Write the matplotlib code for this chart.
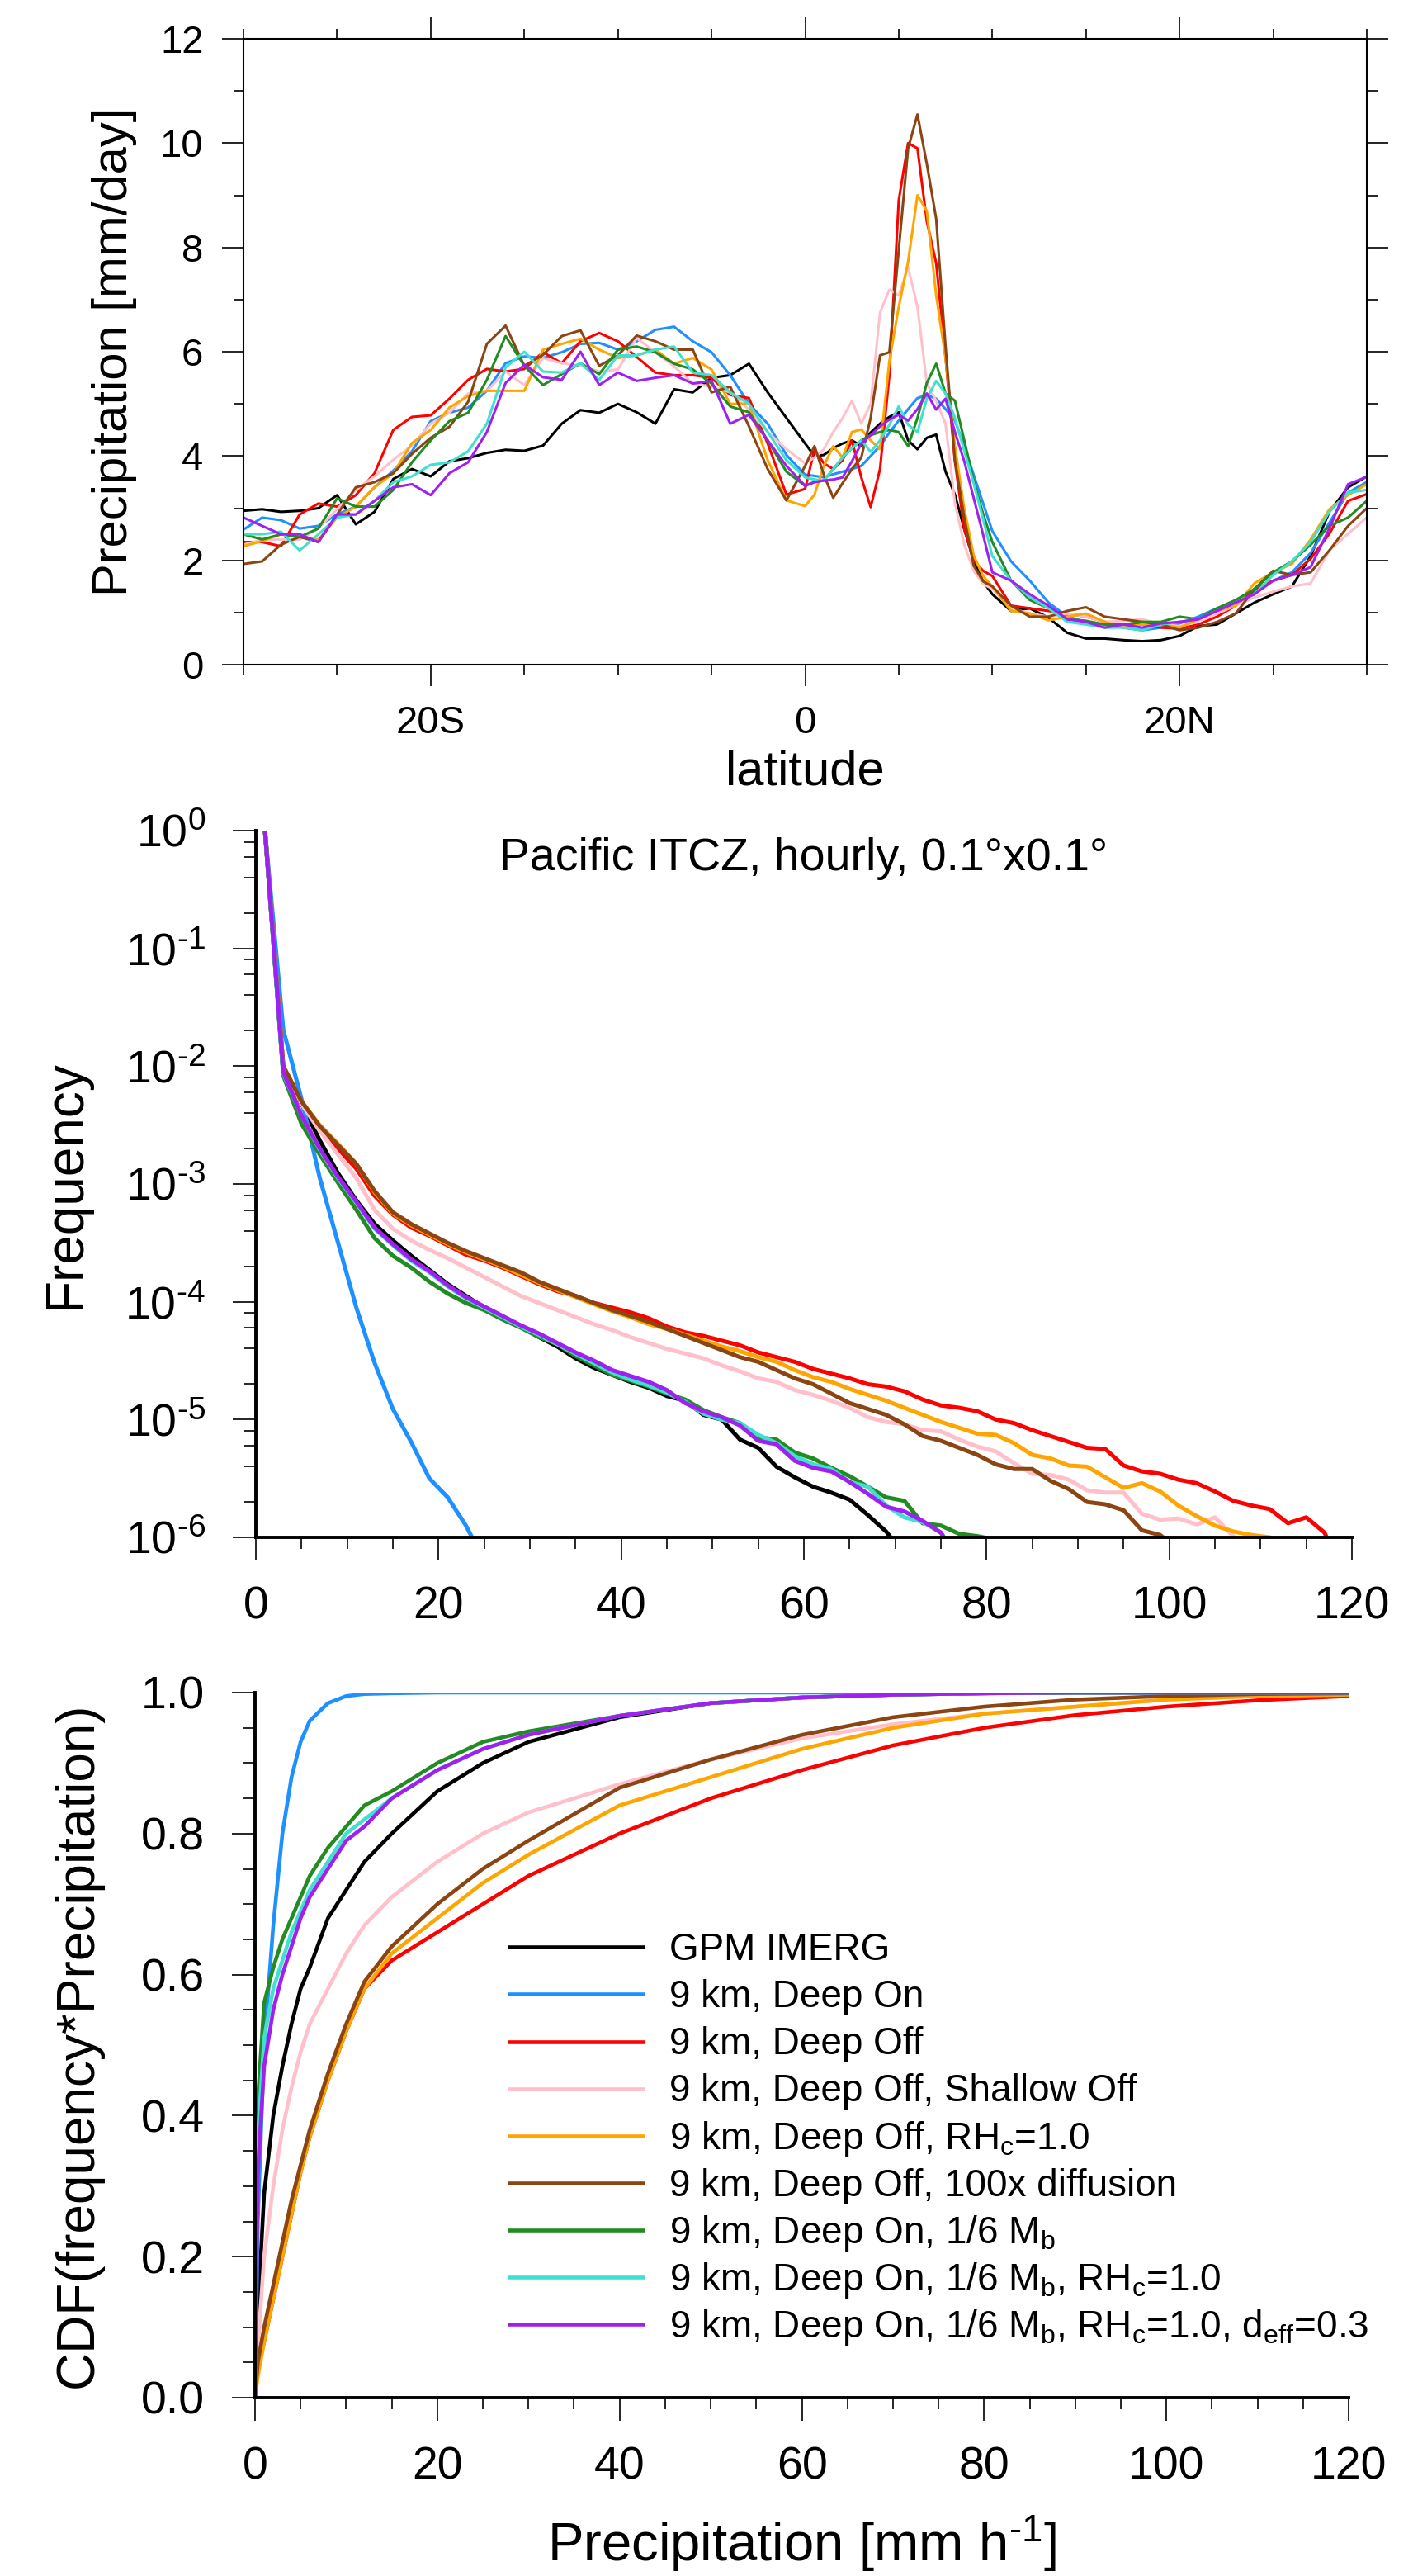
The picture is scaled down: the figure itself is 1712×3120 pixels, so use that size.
import matplotlib
matplotlib.use("Agg")
import matplotlib.pyplot as plt
import numpy as np
from matplotlib.ticker import (MultipleLocator, LogLocator, NullFormatter,
                               FormatStrFormatter, FuncFormatter)

plt.rcParams["font.family"] = ["Liberation Sans", "DejaVu Sans"]
plt.rcParams["mathtext.fontset"] = "custom"
plt.rcParams["mathtext.rm"] = "Liberation Sans"
plt.rcParams["mathtext.it"] = "Liberation Sans:italic"
plt.rcParams["mathtext.default"] = "regular"

# ---------------- data ----------------
run_labels = [
    "GPM IMERG",
    "9 km, Deep On",
    "9 km, Deep Off",
    "9 km, Deep Off, Shallow Off",
    "9 km, Deep Off, RH$_c$=1.0",
    "9 km, Deep Off, 100x diffusion",
    "9 km, Deep On, 1/6 M$_b$",
    "9 km, Deep On, 1/6 M$_b$, RH$_c$=1.0",
    "9 km, Deep On, 1/6 M$_b$, RH$_c$=1.0, d$_{eff}$=0.3",
]
run_colors = ["#000000", "#1E90FF", "#FF0000", "#FFC0CB", "#FFA500",
              "#8B4513", "#228B22", "#40E0D0", "#A020F0"]

# (a) zonal-mean precipitation [mm/day] vs latitude
lat = ([-30, -29, -28, -27, -26, -25, -24, -23, -22, -21, -20, -19, -18, -17, -16,
        -15, -14, -13, -12, -11, -10, -9, -8, -7, -6, -5, -4, -3, -2, -1]
       + [0, 0.5, 1, 1.5, 2, 2.5, 3, 3.5, 4, 4.5, 5, 5.5, 6, 6.5, 7, 7.5, 8, 8.5, 9, 9.5, 10]
       + [11, 12, 13, 14, 15, 16, 17, 18, 19, 20, 21, 22, 23, 24, 25, 26, 27, 28, 29, 30])

pr_imerg = [2.95, 2.98, 2.93, 2.95, 3.0, 3.25, 2.69, 2.93, 3.56, 3.75, 3.61, 3.9, 3.96, 4.06, 4.12,
            4.1, 4.2, 4.62, 4.88, 4.83, 5.0, 4.84, 4.62, 5.28, 5.22, 5.5, 5.55, 5.77, 5.22, 4.73,
            4.24, 4.0, 4.02, 4.15, 4.24, 4.3, 4.19, 4.45, 4.62, 4.75, 4.84, 4.3, 4.13, 4.35, 4.41,
            3.7, 3.26, 2.6, 2.0, 1.6, 1.35,
            1.03, 1.08, 0.9, 0.61, 0.5, 0.5, 0.47, 0.45, 0.47, 0.55, 0.74, 0.77, 0.98, 1.19, 1.35,
            1.5, 2.08, 2.93, 3.4, 3.61]
pr_deep_on = [2.59, 2.82, 2.77, 2.61, 2.66, 2.88, 3.03, 3.4, 3.72, 4.09, 4.67, 4.83, 4.93, 5.25, 5.78,
              5.91, 5.88, 5.99, 6.15, 6.17, 6.04, 6.2, 6.42, 6.48, 6.2, 5.99, 5.55, 5.0, 4.62, 4.02,
              3.64, 3.62, 3.59, 3.65, 3.7, 3.75, 3.81, 4.0, 4.19, 4.45, 4.68, 4.9, 5.11, 5.17, 5.1,
              4.9, 4.68, 4.2, 3.64, 3.1, 2.56,
              1.98, 1.61, 1.19, 0.92, 0.82, 0.77, 0.71, 0.66, 0.71, 0.79, 0.92, 1.08, 1.19, 1.4, 1.61,
              1.77, 2.14, 2.72, 3.3, 3.5]
pr_deep_off = [2.35, 2.35, 2.27, 2.88, 3.09, 3.03, 3.25, 3.67, 4.5, 4.75, 4.78, 5.1, 5.46, 5.67, 5.62,
               5.67, 5.99, 5.78, 6.2, 6.36, 6.2, 5.9, 5.6, 5.55, 5.55, 5.5, 5.17, 5.11, 4.24, 3.26,
               3.37, 4.13, 3.86, 3.75, 3.92, 4.3, 3.59, 3.02, 3.75, 5.55, 8.9, 10.0, 9.9, 8.5, 7.7,
               5.9, 3.9, 2.6, 2.0, 1.8, 1.7,
               1.13, 1.08, 1.03, 0.98, 0.92, 0.82, 0.77, 0.77, 0.71, 0.69, 0.77, 0.92, 1.13, 1.45, 1.61,
               1.72, 2.03, 2.51, 3.14, 3.27]
pr_shallow_off = [2.3, 2.4, 2.4, 2.4, 2.61, 2.98, 3.35, 3.61, 3.93, 4.2, 4.62, 4.83, 5.2, 5.25, 5.62,
                  5.36, 5.88, 5.78, 5.73, 5.62, 5.66, 6.26, 5.99, 5.72, 5.39, 5.33, 5.22, 4.89, 4.46, 4.13,
                  3.86, 3.97, 4.13, 4.46, 4.73, 5.06, 4.62, 5.0, 6.75, 7.19, 7.08, 7.62, 6.86, 5.39, 5.06,
                  4.62, 3.1, 2.3, 1.8, 1.55, 1.45,
                  1.08, 0.98, 0.92, 0.98, 0.92, 0.82, 0.84, 0.87, 0.77, 0.74, 0.82, 0.98, 1.13, 1.29, 1.4,
                  1.5, 1.56, 2.19, 2.51, 2.82]
pr_rhc = [2.27, 2.37, 2.5, 2.45, 2.4, 2.82, 3.03, 3.4, 3.67, 4.25, 4.5, 4.93, 5.15, 5.25, 5.25,
          5.25, 6.04, 6.15, 6.25, 6.04, 5.88, 5.93, 6.04, 5.77, 5.88, 5.66, 5.0, 5.0, 3.92, 3.15,
          3.04, 3.26, 3.81, 4.19, 3.97, 4.46, 4.51, 4.3, 4.13, 5.82, 6.86, 7.73, 9.0, 8.7, 7.08,
          5.88, 4.19, 2.99, 2.1, 1.7, 1.5,
          1.03, 0.98, 0.85, 0.92, 0.98, 0.82, 0.71, 0.77, 0.77, 0.71, 0.87, 1.03, 1.13, 1.56, 1.77,
          1.93, 2.4, 2.98, 3.25, 3.46]
pr_diff100 = [1.93, 1.98, 2.3, 2.45, 2.35, 2.88, 3.4, 3.5, 3.67, 4.04, 4.35, 4.56, 5.04, 6.15, 6.5,
              5.73, 5.94, 6.3, 6.41, 5.73, 5.93, 6.31, 6.2, 6.04, 6.04, 5.22, 5.33, 4.57, 3.75, 3.15,
              3.81, 4.19, 3.64, 3.2, 3.48, 3.75, 3.97, 4.73, 5.93, 5.99, 7.95, 9.9, 10.55, 9.6, 8.55,
              6.1, 3.92, 2.82, 1.9, 1.6, 1.5,
              1.13, 0.92, 0.92, 1.03, 1.1, 0.92, 0.87, 0.82, 0.77, 0.66, 0.71, 0.82, 0.98, 1.45, 1.8,
              1.72, 1.77, 2.19, 2.66, 3.0]
pr_mb6 = [2.5, 2.4, 2.5, 2.45, 2.61, 3.19, 3.03, 3.03, 3.35, 3.88, 4.3, 4.67, 4.83, 5.46, 6.3,
          5.73, 5.36, 5.57, 5.78, 5.57, 6.04, 6.1, 5.99, 5.77, 5.66, 5.39, 4.95, 4.84, 4.3, 3.7,
          3.43, 3.5, 3.53, 3.75, 3.97, 4.15, 4.3, 4.4, 4.46, 4.5, 4.46, 4.19, 4.73, 5.4, 5.77,
          5.2, 5.06, 4.3, 3.53, 2.9, 2.35,
          1.61, 1.24, 1.08, 0.87, 0.84, 0.77, 0.77, 0.82, 0.82, 0.92, 0.87, 1.08, 1.24, 1.45, 1.77,
          1.98, 2.3, 2.66, 2.82, 3.14]
pr_mb6_rhc = [2.5, 2.5, 2.55, 2.19, 2.5, 2.82, 2.88, 3.14, 3.5, 3.61, 3.83, 3.88, 4.09, 4.62, 5.7,
              6.0, 5.62, 5.6, 5.78, 5.46, 5.93, 5.93, 6.04, 6.1, 5.6, 5.55, 5.22, 5.0, 4.46, 3.92,
              3.59, 3.55, 3.53, 3.75, 3.97, 4.15, 4.3, 4.08, 4.3, 4.6, 4.95, 4.6, 4.46, 5.1, 5.44,
              5.2, 4.73, 4.1, 3.48, 2.8, 2.08,
              1.61, 1.29, 1.08, 0.82, 0.77, 0.71, 0.71, 0.66, 0.77, 0.82, 0.87, 1.03, 1.19, 1.35, 1.72,
              1.98, 2.35, 2.93, 3.3, 3.35]
pr_mb6_rhc_deff = [2.82, 2.66, 2.5, 2.5, 2.35, 2.88, 2.88, 3.14, 3.4, 3.46, 3.25, 3.67, 3.88, 4.46, 5.4,
                   5.75, 5.51, 5.46, 6.0, 5.36, 5.6, 5.44, 5.5, 5.55, 5.39, 5.44, 4.62, 4.79, 4.3, 3.81,
                   3.43, 3.5, 3.53, 3.55, 3.59, 3.9, 4.24, 4.4, 4.57, 4.7, 4.79, 4.68, 4.9, 5.2, 4.89,
                   5.1, 4.46, 3.9, 3.2, 2.5, 1.77,
                   1.61, 1.35, 1.13, 0.87, 0.82, 0.71, 0.77, 0.71, 0.79, 0.82, 0.87, 1.03, 1.19, 1.35, 1.61,
                   1.72, 1.87, 2.61, 3.46, 3.6]

# (b) hourly precipitation frequency, bin centres [mm/h] and log10(frequency)
pdf_bins = list(range(1, 121, 2))
logf_imerg = [0.0, -2.06, -2.32, -2.63, -2.91, -3.14, -3.34, -3.48, -3.61, -3.73, -3.85, -3.95,
              -4.05, -4.13, -4.21, -4.3, -4.38, -4.48, -4.56, -4.62, -4.68, -4.73, -4.8, -4.84,
              -4.96, -5.0, -5.17, -5.24, -5.4, -5.49, -5.57, -5.62, -5.68, -5.81, -5.95, -6.15]
logf_deep_on = [0.0, -1.69, -2.28, -2.95, -3.5, -4.05, -4.52, -4.91, -5.19, -5.5, -5.66, -5.9, -6.2]
logf_deep_off = [0.0, -2.0, -2.3, -2.52, -2.7, -2.87, -3.1, -3.26, -3.37, -3.44, -3.52, -3.6,
                 -3.65, -3.71, -3.78, -3.85, -3.91, -3.95, -4.01, -4.05, -4.09, -4.14, -4.21, -4.26,
                 -4.29, -4.33, -4.37, -4.43, -4.47, -4.51, -4.57, -4.61, -4.65, -4.7, -4.72, -4.76,
                 -4.83, -4.88, -4.9, -4.93, -5.0, -5.03, -5.09, -5.14, -5.19, -5.24, -5.25, -5.39,
                 -5.44, -5.46, -5.51, -5.54, -5.61, -5.69, -5.73, -5.76, -5.88, -5.83, -5.96, -6.3]
logf_shallow_off = [0.0, -2.0, -2.32, -2.55, -2.75, -2.95, -3.22, -3.38, -3.48, -3.56, -3.63, -3.71,
                    -3.79, -3.87, -3.95, -4.01, -4.07, -4.13, -4.19, -4.24, -4.3, -4.35, -4.4, -4.44,
                    -4.48, -4.54, -4.59, -4.65, -4.68, -4.75, -4.79, -4.84, -4.9, -4.98, -5.02, -5.04,
                    -5.09, -5.1, -5.17, -5.23, -5.27, -5.37, -5.46, -5.47, -5.51, -5.6, -5.62, -5.62,
                    -5.8, -5.85, -5.84, -5.89, -5.83, -5.99, -6.2]
logf_rhc = [0.0, -2.0, -2.3, -2.5, -2.66, -2.83, -3.07, -3.25, -3.35, -3.43, -3.51, -3.58,
            -3.64, -3.7, -3.77, -3.84, -3.9, -3.96, -4.02, -4.08, -4.13, -4.19, -4.23, -4.28,
            -4.33, -4.38, -4.42, -4.47, -4.51, -4.58, -4.64, -4.68, -4.74, -4.79, -4.84, -4.9,
            -4.96, -5.02, -5.07, -5.12, -5.13, -5.2, -5.3, -5.33, -5.39, -5.4, -5.49, -5.58,
            -5.54, -5.61, -5.73, -5.82, -5.9, -5.95, -5.98, -6.0, -6.05]
logf_diff100 = [0.0, -2.0, -2.3, -2.51, -2.67, -2.83, -3.06, -3.24, -3.34, -3.42, -3.5, -3.57,
                -3.63, -3.69, -3.75, -3.83, -3.89, -3.95, -4.01, -4.07, -4.12, -4.17, -4.23, -4.29,
                -4.35, -4.41, -4.47, -4.51, -4.58, -4.65, -4.7, -4.78, -4.86, -4.91, -4.96, -5.04,
                -5.14, -5.18, -5.24, -5.3, -5.38, -5.42, -5.42, -5.52, -5.59, -5.7, -5.72, -5.77,
                -5.94, -5.98, -6.1]
logf_mb6 = [0.0, -2.08, -2.49, -2.75, -2.99, -3.22, -3.46, -3.61, -3.71, -3.83, -3.93, -4.01,
            -4.07, -4.15, -4.22, -4.3, -4.36, -4.46, -4.54, -4.62, -4.67, -4.72, -4.78, -4.83,
            -4.92, -4.98, -5.03, -5.15, -5.17, -5.28, -5.33, -5.41, -5.48, -5.57, -5.66, -5.69,
            -5.88, -5.9, -5.97, -5.99, -6.02]
logf_mb6_rhc = [0.0, -2.06, -2.42, -2.71, -2.95, -3.16, -3.38, -3.52, -3.65, -3.75, -3.87, -3.97,
                -4.05, -4.13, -4.21, -4.28, -4.36, -4.44, -4.52, -4.6, -4.66, -4.71, -4.77, -4.85,
                -4.95, -5.0, -5.03, -5.13, -5.2, -5.31, -5.38, -5.42, -5.53, -5.57, -5.73, -5.83,
                -5.87, -5.96, -6.2]
logf_mb6_rhc_deff = [0.0, -2.05, -2.42, -2.7, -2.94, -3.15, -3.37, -3.51, -3.64, -3.74, -3.86, -3.96,
                     -4.04, -4.12, -4.2, -4.27, -4.35, -4.43, -4.5, -4.58, -4.63, -4.68, -4.75, -4.86,
                     -4.93, -4.98, -5.05, -5.18, -5.21, -5.35, -5.41, -5.44, -5.53, -5.63, -5.74, -5.78,
                     -5.86, -5.96, -6.2]

# (c) CDF of frequency*precipitation
cdf_x = [0, 0.3, 1, 2, 3, 4, 5, 6, 8, 10, 12, 15, 20, 25, 30, 40, 50, 60, 70, 80, 90, 100, 110, 120]
cdf_imerg = [0, 0.12, 0.29, 0.4, 0.47, 0.53, 0.58, 0.61, 0.68, 0.72, 0.76, 0.8, 0.86, 0.9, 0.93,
             0.965, 0.985, 0.993, 0.997, 0.999, 1, 1, 1, 1]
cdf_deep_on = [0, 0.25, 0.5, 0.67, 0.8, 0.88, 0.93, 0.96, 0.985, 0.995, 0.998, 0.999, 1, 1, 1,
               1, 1, 1, 1, 1, 1, 1, 1, 1]
cdf_deep_off = [0, 0.04, 0.08, 0.14, 0.2, 0.26, 0.32, 0.37, 0.45, 0.52, 0.58, 0.62, 0.66, 0.7, 0.74,
                0.8, 0.85, 0.89, 0.925, 0.95, 0.968, 0.98, 0.989, 0.995]
cdf_shallow_off = [0, 0.07, 0.2, 0.3, 0.38, 0.44, 0.49, 0.53, 0.58, 0.63, 0.67, 0.71, 0.76, 0.8, 0.83,
                   0.87, 0.905, 0.935, 0.955, 0.97, 0.98, 0.99, 0.995, 0.998]
cdf_rhc = [0, 0.03, 0.08, 0.14, 0.2, 0.26, 0.32, 0.37, 0.45, 0.52, 0.58, 0.63, 0.68, 0.73, 0.77,
           0.84, 0.88, 0.92, 0.95, 0.97, 0.98, 0.99, 0.995, 0.997]
cdf_diff100 = [0, 0.05, 0.1, 0.16, 0.22, 0.28, 0.33, 0.38, 0.46, 0.53, 0.59, 0.64, 0.7, 0.75, 0.79,
               0.865, 0.905, 0.94, 0.965, 0.98, 0.99, 0.995, 0.998, 0.999]
cdf_mb6 = [0, 0.42, 0.56, 0.61, 0.65, 0.68, 0.71, 0.74, 0.78, 0.81, 0.84, 0.86, 0.9, 0.93, 0.945,
           0.967, 0.985, 0.993, 0.997, 0.999, 1, 1, 1, 1]
cdf_mb6_rhc = [0, 0.37, 0.51, 0.58, 0.62, 0.66, 0.69, 0.72, 0.76, 0.8, 0.82, 0.85, 0.89, 0.92, 0.94,
               0.967, 0.985, 0.993, 0.997, 0.999, 1, 1, 1, 1]
cdf_mb6_rhc_deff = [0, 0.32, 0.47, 0.55, 0.6, 0.64, 0.68, 0.71, 0.75, 0.79, 0.81, 0.85, 0.89, 0.92, 0.94,
                    0.967, 0.985, 0.993, 0.997, 0.999, 1, 1, 1, 1]

zonal = [pr_imerg, pr_deep_on, pr_deep_off, pr_shallow_off, pr_rhc, pr_diff100,
         pr_mb6, pr_mb6_rhc, pr_mb6_rhc_deff]
pdfs = [logf_imerg, logf_deep_on, logf_deep_off, logf_shallow_off, logf_rhc, logf_diff100,
        logf_mb6, logf_mb6_rhc, logf_mb6_rhc_deff]
cdfs = [cdf_imerg, cdf_deep_on, cdf_deep_off, cdf_shallow_off, cdf_rhc, cdf_diff100,
        cdf_mb6, cdf_mb6_rhc, cdf_mb6_rhc_deff]

# ---------------- figure ----------------
W, H = 1712, 3120
fig = plt.figure(figsize=(W / 100, H / 100), dpi=100)


def px_axes(left, top, right, bottom):
    return fig.add_axes([left / W, 1 - bottom / H, (right - left) / W, (bottom - top) / H])


def pow10_label(v, pos):
    e = int(round(np.log10(v)))
    if e < 0:
        return r"10$^{\text{-}%d}$" % (-e)
    return r"10$^{%d}$" % e


# (a) zonal mean
ax1 = px_axes(295, 47, 1656, 805)
for vals, col in zip(zonal, run_colors):
    ax1.plot(lat, vals, color=col, lw=2.2)
ax1.set_xlim(-30, 30)
ax1.set_ylim(0, 12)
ax1.set_xticks([-20, 0, 20])
ax1.set_xticklabels(["20S", "0", "20N"])
ax1.xaxis.set_minor_locator(MultipleLocator(5))
ax1.yaxis.set_major_locator(MultipleLocator(2))
ax1.yaxis.set_minor_locator(MultipleLocator(1))
ax1.tick_params(which="both", direction="out", top=True, right=True, width=1.2)
ax1.tick_params(which="major", length=19, labelsize=34, pad=16)
ax1.tick_params(which="minor", length=9)
for s in ax1.spines.values():
    s.set_linewidth(1.5)
ax1.set_ylabel("Precipitation [mm/day]", fontsize=43)
ax1.yaxis.set_label_coords(-0.0948, 0.5)
ax1.set_xlabel("latitude", fontsize=43)
ax1.xaxis.set_label_coords(0.5, -0.135)

# (b) frequency distribution
ax2 = px_axes(310, 1006, 1638, 1862)
for vals, col in zip(pdfs, run_colors):
    ax2.plot(pdf_bins[:len(vals)], 10.0 ** np.array(vals), color=col, lw=3.6)
ax2.set_yscale("log")
ax2.set_xlim(0, 120)
ax2.set_ylim(1e-6, 1)
ax2.xaxis.set_major_locator(MultipleLocator(20))
ax2.xaxis.set_minor_locator(MultipleLocator(5))
ax2.yaxis.set_major_locator(LogLocator(base=10, numticks=10))
ax2.yaxis.set_major_formatter(FuncFormatter(pow10_label))
ax2.yaxis.set_minor_locator(LogLocator(base=10, subs=(2, 4, 6, 8), numticks=10))
ax2.yaxis.set_minor_formatter(NullFormatter())
ax2.text(0.5, 0.96, "Pacific ITCZ, hourly, 0.1°x0.1°", transform=ax2.transAxes,
         ha="center", va="center", fontsize=40)
ax2.set_ylabel("Frequency", fontsize=46)
ax2.yaxis.set_label_coords(-0.151, 0.5)

# (c) CDF
ax3 = px_axes(309, 2050, 1634, 2904)
for vals, col in zip(cdfs, run_colors):
    ax3.plot(cdf_x, vals, color=col, lw=3.3)
ax3.set_xlim(0, 120)
ax3.set_ylim(0, 1)
ax3.xaxis.set_major_locator(MultipleLocator(20))
ax3.xaxis.set_minor_locator(MultipleLocator(5))
ax3.yaxis.set_major_locator(MultipleLocator(0.2))
ax3.yaxis.set_minor_locator(MultipleLocator(0.05))
ax3.yaxis.set_major_formatter(FormatStrFormatter("%.1f"))
ax3.set_ylabel("CDF(frequency*Precipitation)", fontsize=46)
ax3.yaxis.set_label_coords(-0.139, 0.5)
ax3.set_xlabel(r"Precipitation [mm h$^{\text{-}1}$]", fontsize=47)
ax3.xaxis.set_label_coords(0.5, -0.165)

for ax in (ax2, ax3):
    for side in ("top", "right"):
        ax.spines[side].set_visible(False)
    for side in ("left", "bottom"):
        ax.spines[side].set_linewidth(2.8)
    ax.tick_params(which="both", direction="out", width=1.2)
    ax.tick_params(which="major", length=20, labelsize=40)
    ax.tick_params(which="minor", length=10)
    ax.tick_params(axis="y", which="major", pad=24)
    ax.tick_params(axis="x", which="major", pad=22)

# legend drawn as line + text rows inside panel (c)
row_top, row_bot = 0.639, 0.104
step = (row_top - row_bot) / (len(run_labels) - 1)
for i, (lab, col) in enumerate(zip(run_labels, run_colors)):
    y = row_top - i * step
    ax3.plot([0.231, 0.356], [y, y], transform=ax3.transAxes, color=col, lw=3.3,
             solid_capstyle="butt", clip_on=False)
    ax3.text(0.379, y - 0.0185, lab, transform=ax3.transAxes, ha="left", va="baseline",
             fontsize=33)

fig.savefig("out.png", dpi=100)
